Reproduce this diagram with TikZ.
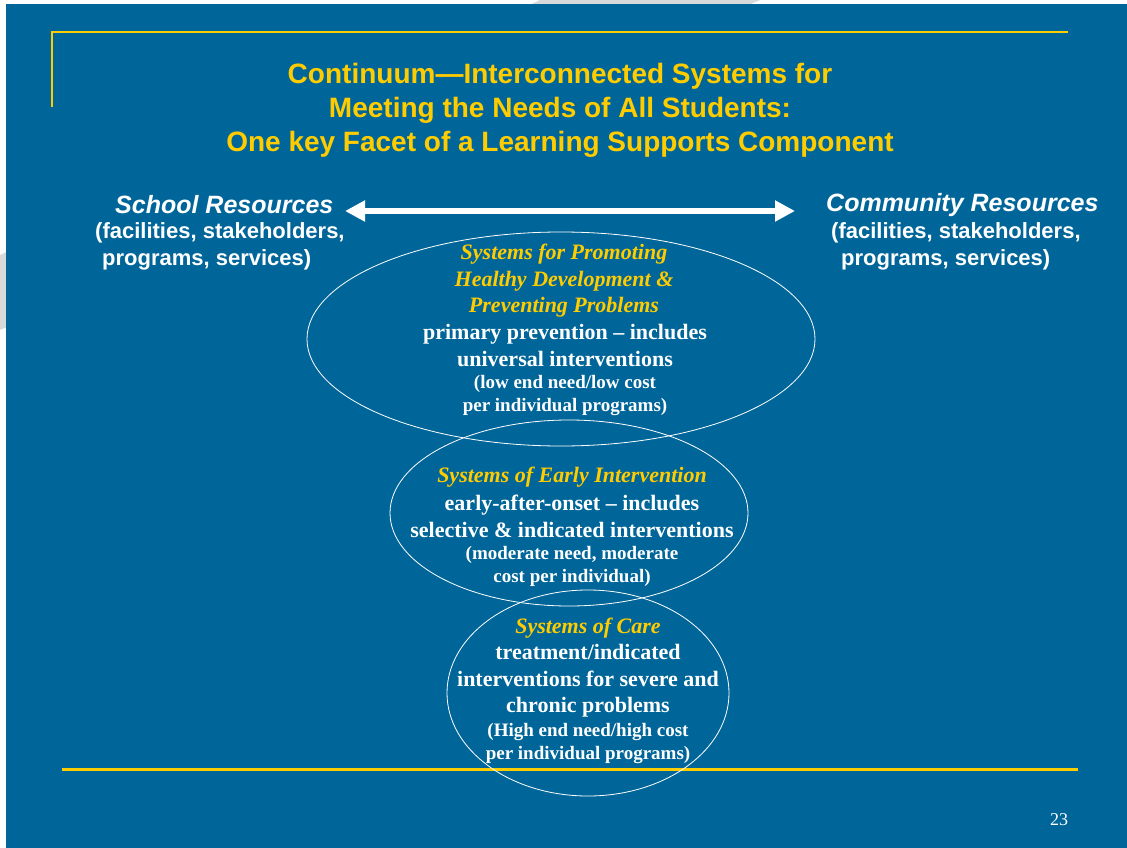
\documentclass[tikz,border=0pt]{standalone}
\usepackage{fontspec}
\setmainfont{Liberation Serif}
\setsansfont{Liberation Sans}
\usetikzlibrary{arrows.meta,positioning}

\definecolor{slideblue}{RGB}{0,102,153}
\definecolor{slidegold}{RGB}{255,204,0}

\tikzset{
  heading/.style={text=slidegold,font=\sffamily\bfseries\fontsize{28}{34}\selectfont,align=center,inner sep=0pt},
  side/.style={text=white,font=\sffamily\bfseries\itshape\fontsize{25}{27}\selectfont,inner sep=0pt},
  sidesub/.style={text=white,font=\sffamily\bfseries\fontsize{22}{27}\selectfont,align=left,inner sep=0pt},
  tier/.style={draw=white,line width=0.8pt},
  tierhead/.style={text=slidegold,font=\bfseries\itshape\fontsize{22}{26.5}\selectfont,align=center,inner sep=0pt},
  tierbody/.style={text=white,font=\bfseries\fontsize{22}{26.5}\selectfont,align=center,inner sep=0pt},
  tiernote/.style={text=white,font=\bfseries\fontsize{19}{23}\selectfont,align=center,inner sep=0pt}
}

\begin{document}
\begin{tikzpicture}[x=1pt,y=-1pt]
           \useasboundingbox (0,0) rectangle (1127,848);
           \fill[gray!30] (540,0) -- (760,0) -- (0,330) -- (0,255) -- cycle;
           \fill[slideblue] (6,4) rectangle (1127,848);
           \draw[slidegold,line width=2pt] (52,107) -- (52,32) -- (1068,32);
           \draw[slidegold,line width=3pt] (62,769) -- (1078,769);

           \node[heading] (title) at (560,110) {Continuum---Interconnected Systems for\\Meeting the Needs of All Students:\\One key Facet of a Learning Supports Component};

           \node[side,anchor=west] (school) at (115,205) {School Resources};
           \node[sidesub,anchor=west] (schoolsub) at (95,246.5) {(facilities, stakeholders,\\\hspace*{7pt}programs, services)};
           \node[side,anchor=west] (community) at (826,205) {Community Resources};
           \node[sidesub,anchor=west] (communitysub) at (831,246.5) {(facilities, stakeholders,\\\hspace*{10pt}programs, services)};

           \coordinate (left) at (345,211);
           \coordinate (right) at (795,211);
           \draw[white,line width=6pt,{Triangle[length=20pt,width=20pt]}-{Triangle[length=20pt,width=20pt]}] (left) -- (right);

           \draw[tier] (561,339) ellipse [x radius=254pt, y radius=107pt];
           \draw[tier] (569,513) ellipse [x radius=179pt, y radius=93pt];
           \draw[tier] (588,693) ellipse [x radius=141pt, y radius=103pt];

           \node[tierhead] (promotehead) at (564,281) {Systems for Promoting\\Healthy Development \&\\Preventing Problems};
           \node[tierbody] (promotebody) at (565,345.5) {primary prevention -- includes\\universal interventions};
           \node[tiernote] (promotenote) at (565,396) {(low end need/low cost\\per individual programs)};

           \node[tierhead] (earlyhead) at (572,477.5) {Systems of Early Intervention};
           \node[tierbody] (earlybody) at (572,516.5) {early-after-onset -- includes\\selective \& indicated interventions};
           \node[tiernote] (earlynote) at (572,566) {(moderate need, moderate\\cost per individual)};

           \node[tierhead] (carehead) at (588,628.5) {Systems of Care};
           \node[tierbody] (carebody) at (588,681) {treatment/indicated\\interventions for severe and\\chronic problems};
           \node[tiernote] (carenote) at (588,743) {(High end need/high cost\\per individual programs)};

           \node[text=white,font=\fontsize{18}{20}\selectfont] (page) at (1059,820) {23};
        \end{tikzpicture}
\end{document}
